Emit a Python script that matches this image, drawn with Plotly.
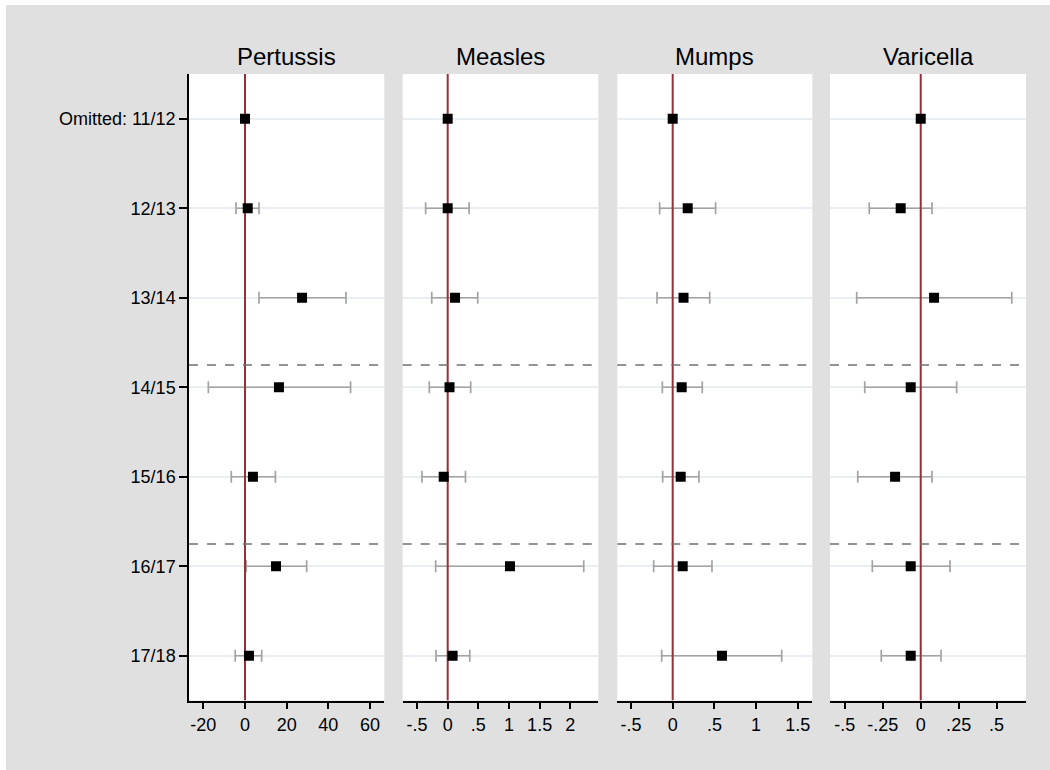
import plotly.graph_objects as go

# Seasons (rows, top to bottom)
seasons = ["Omitted: 11/12", "12/13", "13/14", "14/15", "15/16", "16/17", "17/18"]
rows = [1, 2, 3, 4, 5, 6, 7]

diseases = ["Pertussis", "Measles", "Mumps", "Varicella"]

# Point estimates (first row is the omitted reference season)
pertussis_est = [0.0, 1.3, 27.4, 16.3, 3.8, 14.9, 1.9]
pertussis_lo = [None, -4.3, 6.7, -17.6, -6.6, 0.6, -4.7]
pertussis_hi = [None, 6.7, 48.5, 50.7, 14.6, 29.6, 8.0]

measles_est = [0.0, 0.0, 0.12, 0.03, -0.065, 1.016, 0.08]
measles_lo = [None, -0.36, -0.26, -0.30, -0.42, -0.196, -0.19]
measles_hi = [None, 0.35, 0.49, 0.375, 0.29, 2.22, 0.36]

mumps_est = [0.0, 0.18, 0.13, 0.108, 0.096, 0.12, 0.591]
mumps_lo = [None, -0.156, -0.188, -0.124, -0.12, -0.228, -0.132]
mumps_hi = [None, 0.515, 0.444, 0.355, 0.315, 0.471, 1.307]

varicella_est = [0.0, -0.132, 0.088, -0.066, -0.169, -0.066, -0.066]
varicella_lo = [None, -0.339, -0.422, -0.369, -0.415, -0.319, -0.26]
varicella_hi = [None, 0.0745, 0.60, 0.237, 0.0745, 0.193, 0.134]

# x-axis ticks per panel
pertussis_ticks = [-20, 0, 20, 40, 60]
pertussis_ticktext = ["-20", "0", "20", "40", "60"]
measles_ticks = [-0.5, 0, 0.5, 1, 1.5, 2]
measles_ticktext = ["-.5", "0", ".5", "1", "1.5", "2"]
mumps_ticks = [-0.5, 0, 0.5, 1, 1.5]
mumps_ticktext = ["-.5", "0", ".5", "1", "1.5"]
varicella_ticks = [-0.5, -0.25, 0, 0.25, 0.5]
varicella_ticktext = ["-.5", "-.25", "0", ".25", ".5"]

# Season breaks drawn as dashed separators
break_positions = [3.75, 5.75]

panels = [
    (pertussis_est, pertussis_lo, pertussis_hi, pertussis_ticks, pertussis_ticktext, [-26.9, 66.9]),
    (measles_est, measles_lo, measles_hi, measles_ticks, measles_ticktext, [-0.734, 2.457]),
    (mumps_est, mumps_lo, mumps_hi, mumps_ticks, mumps_ticktext, [-0.664, 1.674]),
    (varicella_est, varicella_lo, varicella_hi, varicella_ticks, varicella_ticktext, [-0.598, 0.694]),
]

W, H = 1050, 770
panel_px = [(189, 384.3), (402.7, 598.3), (617.3, 812.3), (830, 1026)]
top_px, bottom_px = 74, 700.5

FONT = "Liberation Sans, Arial, Helvetica, sans-serif"
BG = "#e0e0e0"
RED = "#93313a"
CI_GRAY = "#a3a3a3"

fig = go.Figure()
layout = {}
annotations = []
# thin white border strips on the left and top edges of the page
shapes = [
    dict(type="rect", xref="paper", yref="paper", x0=0, x1=6 / W, y0=0, y1=1,
         fillcolor="white", line=dict(width=0), layer="below"),
    dict(type="rect", xref="paper", yref="paper", x0=0, x1=1, y0=1 - 5 / H, y1=1,
         fillcolor="white", line=dict(width=0), layer="below"),
]

for i, (est, lo, hi, tv, tt, rng) in enumerate(panels):
    n = "" if i == 0 else str(i + 1)
    xa, ya = "x" + n, "y" + n
    x0, x1 = panel_px[i]

    # confidence intervals (rows with an interval only)
    ci_idx = [k for k in range(len(rows)) if lo[k] is not None]
    fig.add_trace(go.Scatter(
        x=[est[k] for k in ci_idx], y=[rows[k] for k in ci_idx],
        mode="markers", marker=dict(size=1, color="rgba(0,0,0,0)"),
        error_x=dict(type="data", symmetric=False,
                     array=[hi[k] - est[k] for k in ci_idx],
                     arrayminus=[est[k] - lo[k] for k in ci_idx],
                     color=CI_GRAY, thickness=1.7, width=6),
        xaxis=xa, yaxis=ya, showlegend=False, hoverinfo="skip"))

    # reference line at zero
    fig.add_trace(go.Scatter(
        x=[0, 0], y=[0.5, 7.5], mode="lines",
        line=dict(color=RED, width=2), xaxis=xa, yaxis=ya,
        showlegend=False, hoverinfo="skip"))

    # point estimates
    fig.add_trace(go.Scatter(
        x=est, y=rows, mode="markers",
        marker=dict(symbol="square", size=10, color="black"),
        xaxis=xa, yaxis=ya, showlegend=False))

    layout["xaxis" + n] = dict(
        domain=[x0 / W, x1 / W], range=rng, anchor=ya,
        tickvals=tv, ticktext=tt, ticks="outside", ticklen=7, tickwidth=1.5,
        tickcolor="black", showline=True, linecolor="black", linewidth=1.5,
        showgrid=False, zeroline=False,
        tickfont=dict(family=FONT, size=18, color="black"))
    layout["yaxis" + n] = dict(
        domain=[1 - bottom_px / H, 1 - top_px / H], range=[7.5, 0.5], anchor=xa,
        tickvals=rows, ticktext=seasons,
        ticks="outside" if i == 0 else "", ticklen=8, tickwidth=1.5, tickcolor="black",
        showticklabels=(i == 0), showline=(i == 0), linecolor="black", linewidth=1.5,
        showgrid=True, gridcolor="#e8eef2", gridwidth=1.5, zeroline=False,
        tickfont=dict(family=FONT, size=18, color="black"))

    for b in break_positions:
        shapes.append(dict(type="line", xref=xa + " domain", yref=ya,
                           x0=0, x1=1, y0=b, y1=b,
                           line=dict(color="#707070", width=1.5, dash="dash"),
                           layer="above"))

    annotations.append(dict(
        text=diseases[i], xref="paper", yref="paper",
        x=(x0 + x1) / 2 / W, y=1 - 57 / H, xanchor="center", yanchor="middle",
        showarrow=False, font=dict(family=FONT, size=24, color="black")))

fig.update_layout(
    width=W, height=H,
    margin=dict(l=0, r=0, t=0, b=0, autoexpand=False),
    paper_bgcolor=BG, plot_bgcolor="white",
    shapes=shapes, annotations=annotations,
    font=dict(family=FONT, color="black"),
    **layout)

fig.write_html("out.html")
